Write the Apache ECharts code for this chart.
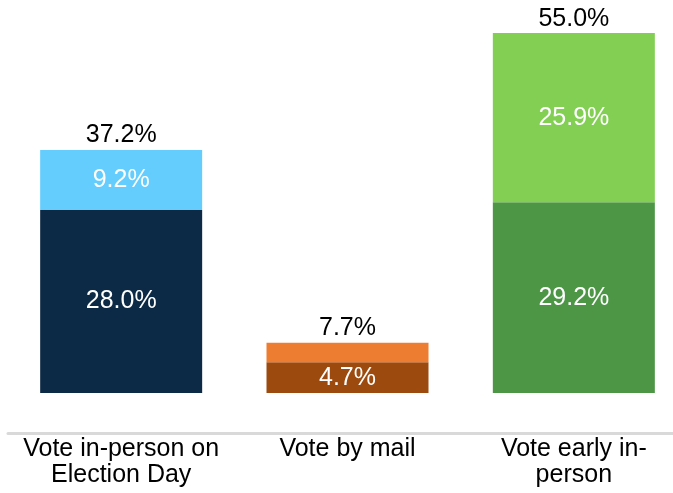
<!DOCTYPE html>
<html>
<head>
<meta charset="utf-8">
<script src="https://cdn.jsdelivr.net/npm/echarts@6/dist/echarts.min.js"></script>
<style>
  html, body { margin: 0; padding: 0; background: #fff; }
  #container { width: 673px; height: 493px; }
</style>
</head>
<body>
<div id="container"></div>
<script>
// chart data
var categories = ['Vote in-person on\nElection Day', 'Vote by mail', 'Vote early in-\nperson'];
var bottomVals = [28.0, 4.7, 29.2];
var topVals = [9.2, 3.0, 25.9];
var totals = [37.2, 7.7, 55.0];
var showTopLabel = [true, false, true];
var bottomColors = ['#0c2a46', '#9d4a0e', '#4c9645'];
var topColors = ['#64cdfd', '#ed7d31', '#82cf54'];

var font = 'Liberation Sans, Arial, sans-serif';

var dom = document.getElementById('container');
var myChart = echarts.init(dom);

function pct(v) {
  return v.toFixed(1) + '%';
}

var option = {
  animation: false,
  grid: {
    left: 8,
    right: -14,
    top: 33,
    bottom: 100,
    outerBoundsMode: 'none',
    containLabel: false
  },
  xAxis: {
    type: 'category',
    data: categories,
    offset: 40,
    axisLine: { show: true, onZero: false, lineStyle: { color: '#d9d9d9', width: 3 } },
    axisTick: { show: false },
    axisLabel: {
      color: '#000',
      fontSize: 25,
      fontFamily: font,
      lineHeight: 26,
      margin: 3,
      interval: 0
    }
  },
  yAxis: {
    type: 'value',
    min: 0,
    max: 55.1,
    show: false,
    splitLine: { show: false }
  },
  series: [
    {
      type: 'bar',
      stack: 'v',
      barWidth: 162,
      data: bottomVals.map(function (v, i) {
        return { value: v, itemStyle: { color: bottomColors[i] } };
      }),
      label: {
        show: true,
        position: 'inside',
        color: '#fff',
        fontSize: 25,
        fontFamily: font,
        formatter: function (p) { return pct(p.value); }
      }
    },
    {
      type: 'bar',
      stack: 'v',
      barWidth: 162,
      data: topVals.map(function (v, i) {
        return { value: v, itemStyle: { color: topColors[i] }, label: { show: showTopLabel[i] } };
      }),
      label: {
        show: true,
        position: 'inside',
        color: '#fff',
        fontSize: 25,
        fontFamily: font,
        formatter: function (p) { return pct(p.value); }
      }
    },
    {
      type: 'bar',
      barWidth: 162,
      barGap: '-100%',
      z: 1,
      data: totals,
      itemStyle: { color: 'rgba(0,0,0,0)' },
      label: {
        show: true,
        position: 'top',
        distance: 2,
        color: '#000',
        fontSize: 25,
        fontFamily: font,
        formatter: function (p) { return pct(p.value); }
      }
    }
  ]
};

myChart.setOption(option);
</script>
</body>
</html>
